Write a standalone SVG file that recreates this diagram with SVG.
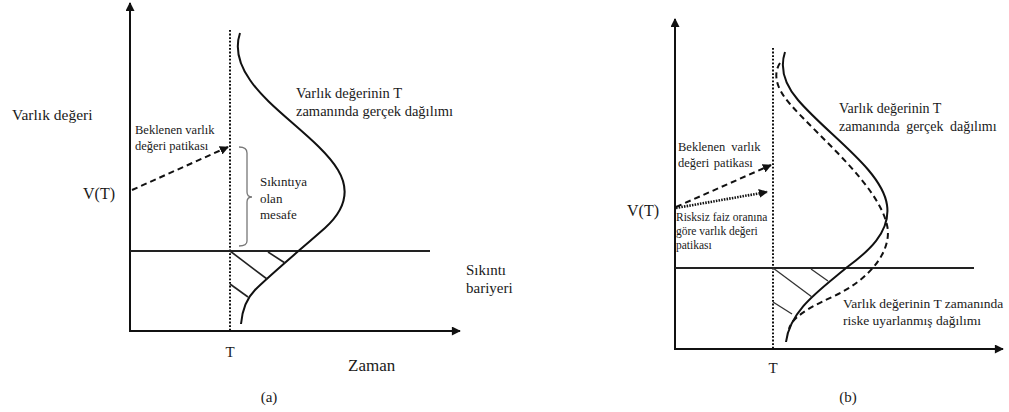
<svg xmlns="http://www.w3.org/2000/svg" width="1009" height="412" viewBox="0 0 1009 412" font-family="'Liberation Serif', 'Times New Roman', 'DejaVu Serif', serif">
  <style>
    text { font-family: "Liberation Serif", "Times New Roman", "DejaVu Serif", serif; fill: #1a1a1a; }
    .axis { stroke: #111; stroke-width: 2; fill: none; }
    .barrier { stroke: #222; stroke-width: 2; fill: none; }
    .tline { stroke: #111; stroke-width: 2; stroke-dasharray: 1.8 1.8; fill: none; }
    .curve { stroke: #111; stroke-width: 2; fill: none; }
    .curve-dash { stroke: #111; stroke-width: 2; stroke-dasharray: 6 4; fill: none; }
    .hatch { stroke: #222; stroke-width: 1.6; fill: none; }
    .hatch-thin { stroke: #333; stroke-width: 1.3; fill: none; }
    .path-dash { stroke: #111; stroke-width: 2; stroke-dasharray: 6 4; fill: none; }
    .path-dot { stroke: #111; stroke-width: 2.6; stroke-dasharray: 1.5 1.2; fill: none; }
    .brace { stroke: #777; stroke-width: 1.3; fill: none; }
  </style>
  <defs>
    <marker id="arrow" viewBox="0 0 10 10" refX="9" refY="5" markerWidth="10" markerHeight="9" markerUnits="userSpaceOnUse" orient="auto">
      <path d="M0,0 L10,5 L0,10 Z" fill="#111"/>
    </marker>
    <marker id="arrow-sm" viewBox="0 0 10 10" refX="9" refY="5" markerWidth="9" markerHeight="9" markerUnits="userSpaceOnUse" orient="auto">
      <path d="M0,0 L10,5 L0,10 Z" fill="#111"/>
    </marker>
  </defs>

  <!-- Panel (a): actual distribution against the distress barrier -->
  <g id="panel-a">
    <g id="a-axes">
      <line class="axis" x1="130" y1="331" x2="130" y2="3" marker-end="url(#arrow)"/>
      <line class="axis" x1="129" y1="331" x2="460" y2="331" marker-end="url(#arrow)"/>
    </g>
    <g id="a-time-T">
      <line class="tline" x1="230" y1="30" x2="230" y2="331"/>
      <text x="230" y="357" font-size="15" text-anchor="middle">T</text>
    </g>
    <g id="a-barrier">
      <line class="barrier" x1="130" y1="251" x2="430" y2="251"/>
      <text x="466" y="275" font-size="15">Sıkıntı</text>
      <text x="466" y="293" font-size="15">bariyeri</text>
    </g>
    <g id="a-distribution">
      <path class="curve" d="M240,33 C236,45 236,60 250,80 C270,110 320,140 338,170 C350,190 345,210 325,228 C300,250 270,275 255,290 C245,300 242,312 241,324"/>
      <text x="296" y="98" font-size="14.5">Varlık değerinin T</text>
      <text x="296" y="116" font-size="14.5">zamanında gerçek dağılımı</text>
    </g>
    <g id="a-default-area">
      <line class="hatch" x1="230" y1="251" x2="267" y2="279"/>
      <line class="hatch" x1="268" y1="252" x2="285" y2="263"/>
      <line class="hatch" x1="230" y1="284" x2="248" y2="297"/>
    </g>
    <g id="a-distance">
      <path class="brace" d="M239,147 Q247,147 247,153 L247,192 Q247,197 252,197 Q247,197 247,202 L247,241 Q247,246 239,246"/>
      <text x="260" y="186" font-size="13">Sıkıntıya</text>
      <text x="260" y="203" font-size="13">olan</text>
      <text x="260" y="219" font-size="13">mesafe</text>
    </g>
    <g id="a-labels">
      <text x="12" y="120" font-size="15.5">Varlık değeri</text>
      <text x="83" y="199" font-size="16">V(T)</text>
      <text x="135" y="134" font-size="12.5">Beklenen varlık</text>
      <text x="135" y="150" font-size="12.5">değeri patikası</text>
      <text x="348" y="371" font-size="17">Zaman</text>
      <text x="269" y="402" font-size="15" text-anchor="middle">(a)</text>
    </g>
  </g>

  <!-- Panel (b): actual vs risk-adjusted distribution -->
  <g id="panel-b">
    <g id="b-axes">
      <line class="axis" x1="675" y1="349" x2="675" y2="19" marker-end="url(#arrow)"/>
      <line class="axis" x1="674" y1="349" x2="1003" y2="349" marker-end="url(#arrow)"/>
    </g>
    <g id="b-time-T">
      <line class="tline" x1="773" y1="48" x2="773" y2="349"/>
      <text x="773" y="373" font-size="15" text-anchor="middle">T</text>
    </g>
    <g id="b-barrier">
      <line class="barrier" x1="675" y1="268" x2="974" y2="268"/>
    </g>
    <g id="b-actual">
      <path class="curve" d="M785,52 C781,64 781,80 798,100 C828,135 882,170 887,205 C891,232 868,252 846,268 C820,290 790,310 786,342"/>
      <text x="839" y="113" font-size="14">Varlık değerinin T</text>
      <text x="839" y="131" font-size="14" word-spacing="3">zamanında gerçek dağılımı</text>
    </g>
    <g id="b-risk-adjusted">
      <path class="curve-dash" d="M780,63 C774,72 774,86 790,104 C820,138 878,185 887,225 C893,250 870,280 832,297 C806,309 792,318 789,329"/>
      <text x="843" y="308" font-size="13.5">Varlık değerinin T zamanında</text>
      <text x="843" y="325" font-size="13.5">riske uyarlanmış dağılımı</text>
    </g>
    <g id="b-default-area">
      <line class="hatch-thin" x1="773" y1="268" x2="812" y2="297"/>
      <line class="hatch-thin" x1="811" y1="269" x2="828" y2="281"/>
      <line class="hatch-thin" x1="773" y1="302" x2="792" y2="314"/>
    </g>
    <g id="b-labels">
      <text x="627" y="216" font-size="16">V(T)</text>
      <text x="678" y="151" font-size="12.5" word-spacing="3">Beklenen varlık</text>
      <text x="678" y="167" font-size="12.5" word-spacing="1.5">değeri patikası</text>
      <text x="676" y="221" font-size="11.5">Risksiz faiz oranına</text>
      <text x="676" y="235" font-size="11.5">göre varlık değeri</text>
      <text x="676" y="249" font-size="11.5">patikası</text>
      <text x="848" y="402" font-size="15" text-anchor="middle">(b)</text>
    </g>
  </g>

  <!-- Value paths from V(T) to the horizon T -->
  <g id="connectors">
    <line class="path-dash" x1="132" y1="190" x2="228" y2="147" marker-end="url(#arrow-sm)"/>
    <line class="path-dash" x1="676" y1="207" x2="771" y2="165" marker-end="url(#arrow-sm)"/>
    <line class="path-dot" x1="676" y1="208" x2="767" y2="192" marker-end="url(#arrow-sm)"/>
  </g>
</svg>
